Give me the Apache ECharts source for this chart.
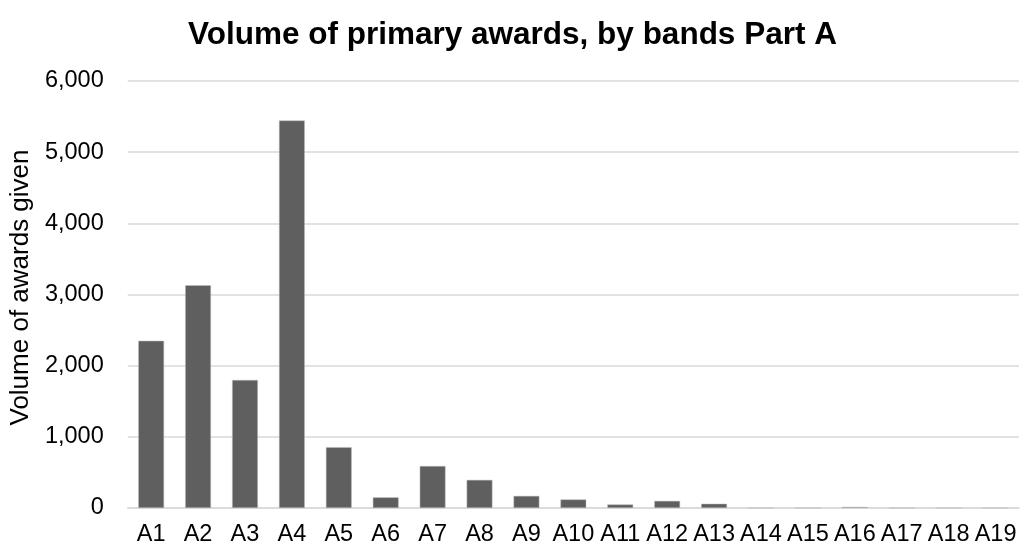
<!DOCTYPE html>
<html><head><meta charset="utf-8">
<script src="https://cdn.jsdelivr.net/npm/echarts@6/dist/echarts.min.js"></script>
<style>html,body{margin:0;padding:0;background:#fff}#c{width:1025px;height:547px}</style>
</head><body><div id="c"></div>
<script>
const categories = ["A1","A2","A3","A4","A5","A6","A7","A8","A9","A10","A11","A12","A13","A14","A15","A16","A17","A18","A19"];
const awards = [2350,3130,1800,5445,855,150,590,395,170,120,50,100,60,0,0,15,0,0,0];
const yTicks = {min:0, max:6000, interval:1000};
const chart = echarts.init(document.getElementById('c'));
chart.setOption({
  animation:false,
  title:{text:'Volume of primary awards, by bands Part A', left:'center', top:14,
    textStyle:{fontFamily:'Liberation Sans, Arial', fontSize:31.5, fontWeight:'bold', color:'#000'}},
  grid:{left:126, right:6, top:81, bottom:38.5, containLabel:false},
  xAxis:{type:'category', data:categories,
    axisLine:{lineStyle:{color:'#d9d9d9', width:1.5}}, axisTick:{show:false},
    axisLabel:{color:'#000', fontFamily:'Liberation Sans, Arial', fontSize:23.5, margin:15, interval:0}},
  yAxis:{type:'value', min:yTicks.min, max:yTicks.max, interval:yTicks.interval,
    name:'Volume of awards given', nameLocation:'middle', nameGap:88, nameRotate:90,
    nameTextStyle:{color:'#000', fontFamily:'Liberation Sans, Arial', fontSize:26, padding:[0,0,0,14]},
    axisLine:{show:false}, axisTick:{show:false},
    splitLine:{lineStyle:{color:'#d9d9d9', width:1.5}},
    axisLabel:{color:'#000', fontFamily:'Liberation Sans, Arial', fontSize:23.5, margin:24,
      formatter:v=>v.toLocaleString('en-US')}},
  series:[{type:'bar', data:awards, barWidth:'55%',
    itemStyle:{color:'#5f5f5f', borderColor:'#bfbfbf', borderWidth:0.5}}]
});
</script></body></html>
